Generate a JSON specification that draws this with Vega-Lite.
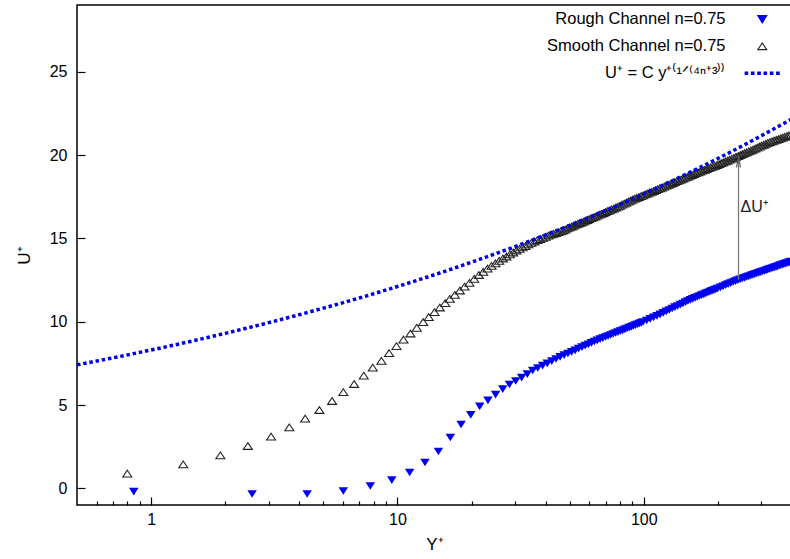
{
  "$schema": "https://vega.github.io/schema/vega-lite/v6.json",
  "width": 715,
  "height": 500,
  "autosize": {"type": "none"},
  "padding": {"left": 77, "top": 5, "right": 0, "bottom": 54},
  "background": "#ffffff",
  "config": {
    "font": "Liberation Sans",
    "view": {"stroke": "#000000", "strokeWidth": 1.5},
    "axis": {
      "labelFont": "Liberation Sans", "labelFontSize": 16, "labelColor": "#000000",
      "titleFont": "Liberation Sans", "titleFontSize": 17, "titleFontWeight": "normal", "titleColor": "#000000",
      "domain": false, "grid": false
    }
  },
  "resolve": {"axis": {"x": "independent"}},
  "datasets": {
    "rough": [
      {"yp":0.85,"up":-0.20},{"yp":2.57,"up":-0.34},{"yp":4.30,"up":-0.34},{"yp":6.03,"up":-0.16},{"yp":7.76,"up":0.14},
      {"yp":9.49,"up":0.49},{"yp":11.21,"up":0.95},{"yp":12.94,"up":1.55},{"yp":14.67,"up":2.21},{"yp":16.40,"up":3.05},
      {"yp":18.13,"up":3.83},{"yp":19.85,"up":4.41},{"yp":21.58,"up":4.92},{"yp":23.31,"up":5.28},{"yp":25.04,"up":5.62},
      {"yp":26.77,"up":5.95},{"yp":28.49,"up":6.23},{"yp":30.22,"up":6.44},{"yp":31.95,"up":6.64},{"yp":33.68,"up":6.85},
      {"yp":35.41,"up":7.07},{"yp":37.13,"up":7.22},{"yp":38.86,"up":7.36},{"yp":40.59,"up":7.50},{"yp":42.32,"up":7.63},
      {"yp":44.05,"up":7.76},{"yp":45.77,"up":7.89},{"yp":47.50,"up":7.99},{"yp":49.23,"up":8.09},{"yp":50.96,"up":8.19},
      {"yp":52.69,"up":8.28},{"yp":54.41,"up":8.38},{"yp":56.14,"up":8.47},{"yp":57.87,"up":8.56},{"yp":59.60,"up":8.64},
      {"yp":61.33,"up":8.73},{"yp":63.05,"up":8.81},{"yp":64.78,"up":8.88},{"yp":66.51,"up":8.95},{"yp":68.24,"up":9.01},
      {"yp":69.97,"up":9.08},{"yp":71.69,"up":9.14},{"yp":73.42,"up":9.20},{"yp":75.15,"up":9.26},{"yp":76.88,"up":9.32},
      {"yp":78.61,"up":9.37},{"yp":80.33,"up":9.43},{"yp":82.06,"up":9.48},{"yp":83.79,"up":9.54},{"yp":85.52,"up":9.59},
      {"yp":87.25,"up":9.64},{"yp":88.97,"up":9.69},{"yp":90.70,"up":9.74},{"yp":92.43,"up":9.79},{"yp":94.16,"up":9.84},
      {"yp":95.89,"up":9.88},{"yp":97.61,"up":9.93},{"yp":99.34,"up":9.98},{"yp":102.80,"up":10.07},{"yp":106.25,"up":10.17},
      {"yp":109.71,"up":10.26},{"yp":113.17,"up":10.35},{"yp":116.62,"up":10.44},{"yp":120.08,"up":10.53},{"yp":123.53,"up":10.62},
      {"yp":126.99,"up":10.70},{"yp":130.45,"up":10.79},{"yp":133.90,"up":10.87},{"yp":137.36,"up":10.94},{"yp":140.81,"up":11.02},
      {"yp":144.27,"up":11.09},{"yp":147.73,"up":11.17},{"yp":151.18,"up":11.24},{"yp":154.64,"up":11.31},{"yp":158.09,"up":11.37},
      {"yp":161.55,"up":11.43},{"yp":165.01,"up":11.48},{"yp":168.46,"up":11.54},{"yp":171.92,"up":11.59},{"yp":175.37,"up":11.64},
      {"yp":178.83,"up":11.70},{"yp":182.29,"up":11.75},{"yp":185.74,"up":11.80},{"yp":189.20,"up":11.85},{"yp":192.65,"up":11.89},
      {"yp":196.11,"up":11.94},{"yp":199.57,"up":11.99},{"yp":204.75,"up":12.06},{"yp":209.93,"up":12.12},{"yp":215.12,"up":12.19},
      {"yp":220.30,"up":12.25},{"yp":225.49,"up":12.31},{"yp":230.67,"up":12.38},{"yp":235.85,"up":12.43},{"yp":241.04,"up":12.49},
      {"yp":246.22,"up":12.54},{"yp":251.41,"up":12.59},{"yp":256.59,"up":12.63},{"yp":261.77,"up":12.68},{"yp":266.96,"up":12.72},
      {"yp":272.14,"up":12.77},{"yp":277.33,"up":12.81},{"yp":282.51,"up":12.85},{"yp":287.69,"up":12.89},{"yp":292.88,"up":12.93},
      {"yp":298.06,"up":12.97},{"yp":303.25,"up":13.01},{"yp":308.43,"up":13.04},{"yp":313.61,"up":13.08},{"yp":318.80,"up":13.12},
      {"yp":323.98,"up":13.15},{"yp":329.17,"up":13.19},{"yp":334.35,"up":13.22},{"yp":339.53,"up":13.26},{"yp":344.72,"up":13.29},
      {"yp":349.90,"up":13.32},{"yp":355.09,"up":13.36},{"yp":360.27,"up":13.39},{"yp":365.45,"up":13.42},{"yp":370.64,"up":13.45},
      {"yp":375.82,"up":13.48},{"yp":381.01,"up":13.51},{"yp":386.19,"up":13.54},{"yp":391.37,"up":13.57},{"yp":396.56,"up":13.60}
    ],
    "smooth": [
      {"yp":0.80,"up":0.88},{"yp":1.35,"up":1.44},{"yp":1.91,"up":1.98},{"yp":2.47,"up":2.54},{"yp":3.07,"up":3.10},
      {"yp":3.64,"up":3.66},{"yp":4.22,"up":4.18},{"yp":4.82,"up":4.70},{"yp":5.43,"up":5.24},{"yp":6.03,"up":5.77},
      {"yp":6.67,"up":6.26},{"yp":7.30,"up":6.76},{"yp":7.94,"up":7.24},{"yp":8.61,"up":7.65},{"yp":9.25,"up":8.11},
      {"yp":9.91,"up":8.53},{"yp":10.58,"up":8.92},{"yp":11.29,"up":9.29},{"yp":11.98,"up":9.63},{"yp":12.72,"up":9.97},
      {"yp":13.40,"up":10.27},{"yp":14.14,"up":10.57},{"yp":14.86,"up":10.85},{"yp":15.63,"up":11.11},{"yp":16.32,"up":11.37},
      {"yp":17.10,"up":11.61},{"yp":17.92,"up":11.87},{"yp":18.73,"up":12.10},{"yp":19.6,"up":12.33},{"yp":20.5,"up":12.57},
      {"yp":21.4,"up":12.80},{"yp":22.3,"up":12.99},{"yp":23.2,"up":13.18},{"yp":24.1,"up":13.35},{"yp":25.0,"up":13.50},
      {"yp":25.9,"up":13.65},{"yp":26.8,"up":13.79},{"yp":27.7,"up":13.91},{"yp":28.6,"up":14.04},{"yp":29.5,"up":14.15},
      {"yp":30.4,"up":14.27},{"yp":31.3,"up":14.37},{"yp":32.2,"up":14.46},{"yp":33.1,"up":14.54},{"yp":34.0,"up":14.64},
      {"yp":35.0,"up":14.73},{"yp":36.0,"up":14.81},{"yp":37.0,"up":14.89},{"yp":38.0,"up":14.96},{"yp":39.0,"up":15.03},
      {"yp":40.0,"up":15.09},{"yp":41.0,"up":15.16},{"yp":42.0,"up":15.22},{"yp":43.0,"up":15.27},{"yp":44.0,"up":15.32},
      {"yp":45.0,"up":15.37},{"yp":46.0,"up":15.42},{"yp":47.0,"up":15.47},{"yp":48.0,"up":15.53},{"yp":49.0,"up":15.60},
      {"yp":50,"up":15.66},{"yp":51,"up":15.71},{"yp":52,"up":15.77},{"yp":53,"up":15.82},{"yp":54,"up":15.87},
      {"yp":55,"up":15.92},{"yp":56,"up":15.96},{"yp":57,"up":16.01},{"yp":58,"up":16.06},{"yp":59,"up":16.10},
      {"yp":60,"up":16.15},{"yp":61.2,"up":16.21},{"yp":62.4,"up":16.26},{"yp":63.6,"up":16.31},{"yp":64.8,"up":16.36},
      {"yp":66,"up":16.42},{"yp":67.3,"up":16.47},{"yp":68.6,"up":16.52},{"yp":69.9,"up":16.58},{"yp":71.3,"up":16.63},
      {"yp":72.7,"up":16.68},{"yp":74.1,"up":16.74},{"yp":75.6,"up":16.79},{"yp":77.1,"up":16.85},{"yp":78.6,"up":16.90},
      {"yp":80.1,"up":16.95},{"yp":81.7,"up":17.02},{"yp":83.3,"up":17.08},{"yp":85,"up":17.14},{"yp":86.7,"up":17.20},
      {"yp":88.4,"up":17.26},{"yp":90.1,"up":17.32},{"yp":91.9,"up":17.38},{"yp":93.7,"up":17.43},{"yp":95.6,"up":17.48},
      {"yp":97.5,"up":17.53},{"yp":99.4,"up":17.58},{"yp":101.4,"up":17.64},{"yp":103.4,"up":17.69},{"yp":105.5,"up":17.74},
      {"yp":107.6,"up":17.79},{"yp":109.7,"up":17.84},{"yp":111.9,"up":17.90},{"yp":114.1,"up":17.95},{"yp":116.4,"up":18.00},
      {"yp":118.7,"up":18.05},{"yp":121.1,"up":18.10},{"yp":123.5,"up":18.16},{"yp":126,"up":18.21},{"yp":128.5,"up":18.27},
      {"yp":131,"up":18.32},{"yp":133.6,"up":18.37},{"yp":136.3,"up":18.43},{"yp":139,"up":18.48},{"yp":141.8,"up":18.53},
      {"yp":144.6,"up":18.59},{"yp":147.5,"up":18.64},{"yp":150.5,"up":18.69},{"yp":153.5,"up":18.75},{"yp":156.6,"up":18.80},
      {"yp":159.7,"up":18.85},{"yp":162.9,"up":18.91},{"yp":166.2,"up":18.96},{"yp":169.5,"up":19.01},{"yp":172.9,"up":19.06},
      {"yp":176.3,"up":19.11},{"yp":179.8,"up":19.16},{"yp":183.4,"up":19.21},{"yp":187.1,"up":19.26},{"yp":190.8,"up":19.30},
      {"yp":194.6,"up":19.35},{"yp":198.5,"up":19.40},{"yp":202.5,"up":19.45},{"yp":206.5,"up":19.51},{"yp":210.6,"up":19.56},
      {"yp":214.8,"up":19.62},{"yp":219.1,"up":19.67},{"yp":223.5,"up":19.72},{"yp":228,"up":19.78},{"yp":232.5,"up":19.83},
      {"yp":237.2,"up":19.89},{"yp":241.9,"up":19.94},{"yp":246.7,"up":20.00},{"yp":251.7,"up":20.05},{"yp":256.7,"up":20.11},
      {"yp":261.8,"up":20.16},{"yp":267,"up":20.22},{"yp":272.4,"up":20.27},{"yp":277.8,"up":20.33},{"yp":283.4,"up":20.39},
      {"yp":289,"up":20.44},{"yp":294.8,"up":20.50},{"yp":300.7,"up":20.56},{"yp":306.7,"up":20.61},{"yp":312.8,"up":20.67},
      {"yp":319.1,"up":20.73},{"yp":325.5,"up":20.77},{"yp":332,"up":20.82},{"yp":338.6,"up":20.86},{"yp":345.4,"up":20.91},
      {"yp":352.3,"up":20.95},{"yp":359.4,"up":21.00},{"yp":366.5,"up":21.04},{"yp":373.9,"up":21.09},{"yp":381.3,"up":21.14},
      {"yp":389,"up":21.18},{"yp":396.7,"up":21.23}
    ],
    "law": [
      {"yp":0.5,"up":7.41},{"yp":0.7,"up":7.83},{"yp":1,"up":8.30},{"yp":1.5,"up":8.87},{"yp":2,"up":9.30},
      {"yp":3,"up":9.94},{"yp":5,"up":10.81},{"yp":7,"up":11.42},{"yp":10,"up":12.11},{"yp":15,"up":12.94},
      {"yp":20,"up":13.57},{"yp":30,"up":14.50},{"yp":50,"up":15.77},{"yp":70,"up":16.66},{"yp":100,"up":17.66},
      {"yp":150,"up":18.88},{"yp":200,"up":19.79},{"yp":300,"up":21.15},{"yp":400,"up":22.17}
    ],
    "delta": [
      {"yp":242.6,"lo":12.51,"hi":19.92,"mid":16.9,"label":"ΔU⁺"}
    ]
  },
  "layer": [
    {
      "data": {"name": "rough"},
      "mark": {"type": "point", "filled": true, "opacity": 1, "size": 90, "strokeWidth": 0},
      "encoding": {
        "x": {
          "field": "yp", "type": "quantitative",
          "scale": {"type": "log", "domain": [0.5, 400], "nice": false},
          "axis": {
            "title": "Y⁺",
            "orient": "bottom",
            "values": [1, 10, 100],
            "format": "d",
            "offset": -8,
            "ticks": true,
            "tickSize": 8,
            "tickColor": "#000000",
            "tickWidth": 1.2,
            "labelPadding": 6,
            "labelOverlap": false,
            "labelFlush": false,
            "titlePadding": 9,
            "zindex": 2
          }
        },
        "y": {
          "field": "up", "type": "quantitative",
          "scale": {"domain": [-1, 29], "nice": false, "zero": false},
          "axis": {
            "title": "U⁺",
            "values": [0,5,10,15,20,25],
            "offset": -8,
            "ticks": true,
            "tickSize": 8,
            "tickColor": "#000000",
            "tickWidth": 1.2,
            "labelPadding": 10,
            "titlePadding": 16,
            "zindex": 2
          }
        },
        "shape": {
          "datum": "Rough Channel n=0.75", "type": "nominal",
          "scale": {"domain": ["Rough Channel n=0.75", "Smooth Channel n=0.75", "U⁺ = C y⁺⁽¹ᐟ⁽⁴ⁿ⁺³⁾⁾"],
                    "range": ["M-1,-0.8L1,-0.8L0,0.8Z", "M0,-0.75L1,0.75L-1,0.75Z", "M-3.8,-0.28h0.56v0.56h-0.56Z M-2.4,-0.28h0.56v0.56h-0.56Z M-1,-0.28h0.56v0.56h-0.56Z M0.4,-0.28h0.56v0.56h-0.56Z M1.8,-0.28h0.56v0.56h-0.56Z M3.2,-0.28h0.56v0.56h-0.56Z"]},
          "legend": {"orient": "none", "legendX": 677, "legendY": 6, "title": null, "padding": 0, "rowPadding": 10, "labelFont": "Liberation Sans", "labelFontSize": 16.5, "labelColor": "#000000", "labelAlign": "right", "labelOffset": -45, "labelLimit": 0, "symbolSize": 81, "symbolStrokeWidth": 1.1}
        },
        "fill": {
          "datum": "Rough Channel n=0.75", "type": "nominal",
          "scale": {"domain": ["Rough Channel n=0.75", "Smooth Channel n=0.75", "U⁺ = C y⁺⁽¹ᐟ⁽⁴ⁿ⁺³⁾⁾"], "range": ["#0000f0", "transparent", "#0000e8"]},
          "legend": {"orient": "none", "legendX": 677, "legendY": 6, "title": null, "padding": 0, "rowPadding": 10, "labelFont": "Liberation Sans", "labelFontSize": 16.5, "labelColor": "#000000", "labelAlign": "right", "labelOffset": -45, "labelLimit": 0, "symbolSize": 81, "symbolStrokeWidth": 1.1}
        },
        "stroke": {
          "datum": "Rough Channel n=0.75", "type": "nominal",
          "scale": {"domain": ["Rough Channel n=0.75", "Smooth Channel n=0.75", "U⁺ = C y⁺⁽¹ᐟ⁽⁴ⁿ⁺³⁾⁾"], "range": ["#0000f0", "#222222", "#0000e8"]},
          "legend": {"orient": "none", "legendX": 677, "legendY": 6, "title": null, "padding": 0, "rowPadding": 10, "labelFont": "Liberation Sans", "labelFontSize": 16.5, "labelColor": "#000000", "labelAlign": "right", "labelOffset": -45, "labelLimit": 0, "symbolSize": 81, "symbolStrokeWidth": 1.1}
        }
      }
    },
    {
      "data": {"name": "smooth"},
      "mark": {"type": "point", "filled": false, "opacity": 1, "size": 81, "strokeWidth": 1.1},
      "encoding": {
        "x": {"field": "yp", "type": "quantitative", "axis": null},
        "y": {"field": "up", "type": "quantitative"},
        "shape": {"datum": "Smooth Channel n=0.75", "type": "nominal"},
        "stroke": {"datum": "Smooth Channel n=0.75", "type": "nominal"}
      }
    },
    {
      "data": {"name": "law"},
      "mark": {"type": "line", "strokeWidth": 3.5, "strokeDash": [3.5, 2.8], "strokeCap": "butt", "interpolate": "monotone"},
      "encoding": {
        "x": {
          "field": "yp", "type": "quantitative",
          "axis": {
            "orient": "bottom",
            "values": [0.6,0.7,0.8,0.9,2,3,4,5,6,7,8,9,20,30,40,50,60,70,80,90,200,300,400],
            "offset": -4,
            "ticks": true,
            "tickSize": 4,
            "tickColor": "#000000",
            "tickWidth": 1.2,
            "labels": false,
            "title": null,
            "zindex": 2
          }
        },
        "y": {"field": "up", "type": "quantitative"},
        "stroke": {"datum": "U⁺ = C y⁺⁽¹ᐟ⁽⁴ⁿ⁺³⁾⁾", "type": "nominal"}
      }
    },
    {
      "data": {"name": "delta"},
      "mark": {"type": "rule", "color": "#7a7a7a", "strokeWidth": 1.3},
      "encoding": {
        "x": {"field": "yp", "type": "quantitative", "axis": null},
        "y": {"field": "lo", "type": "quantitative"},
        "y2": {"field": "hi"}
      }
    },
    {
      "data": {"name": "delta"},
      "mark": {"type": "point", "filled": false, "shape": "M-0.35,1L0,-1L0.35,1", "size": 121, "stroke": "#555555", "strokeWidth": 1.2, "opacity": 1, "yOffset": 5.5},
      "encoding": {
        "x": {"field": "yp", "type": "quantitative", "axis": null},
        "y": {"field": "hi", "type": "quantitative"}
      }
    },
    {
      "data": {"name": "delta"},
      "mark": {"type": "text", "align": "left", "baseline": "middle", "dx": 2, "fontSize": 16, "font": "Liberation Sans", "color": "#222222"},
      "encoding": {
        "x": {"field": "yp", "type": "quantitative", "axis": null},
        "y": {"field": "mid", "type": "quantitative"},
        "text": {"field": "label"}
      }
    }
  ]
}
